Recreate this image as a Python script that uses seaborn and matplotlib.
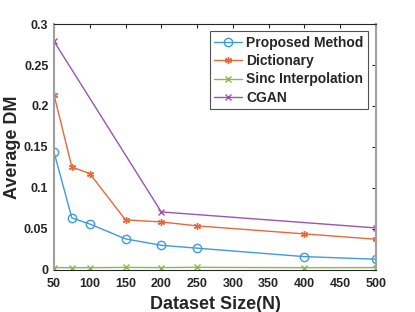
import numpy as np
import pandas as pd
import matplotlib
matplotlib.use("Agg")
import matplotlib.pyplot as plt
import seaborn as sns
from matplotlib.ticker import FuncFormatter

# values
sizes = [50, 75, 100, 150, 200, 250, 400, 500]
proposed = [0.144, 0.0634, 0.056, 0.0378, 0.030, 0.0265, 0.0162, 0.013]
dictionary = [0.214, 0.1256, 0.1175, 0.061, 0.0585, 0.0537, 0.0439, 0.0374]
sinc = [0.0028, 0.0027, 0.0027, 0.003, 0.0028, 0.0031, 0.0027, 0.0028]
cgan_sizes = [50, 200, 500]
cgan = [0.279, 0.0707, 0.0512]

df = pd.concat([
    pd.DataFrame({"N": sizes, "DM": proposed, "method": "Proposed Method"}),
    pd.DataFrame({"N": sizes, "DM": dictionary, "method": "Dictionary"}),
    pd.DataFrame({"N": sizes, "DM": sinc, "method": "Sinc Interpolation"}),
    pd.DataFrame({"N": cgan_sizes, "DM": cgan, "method": "CGAN"}),
], ignore_index=True)

palette = {
    "Proposed Method": "#3d9be0",
    "Dictionary": "#e8683a",
    "Sinc Interpolation": "#86bb45",
    "CGAN": "#9a55b0",
}
markers = {
    "Proposed Method": "o",
    "Dictionary": (6, 2, 0),
    "Sinc Interpolation": "x",
    "CGAN": "x",
}

sns.set_style("white")
plt.rcParams["font.family"] = ["Liberation Sans", "DejaVu Sans"]
plt.rcParams["font.weight"] = "bold"

fig = plt.figure(figsize=(4.15, 3.12), dpi=100)
ax = fig.add_axes([0.130, 0.135, 0.776, 0.788])

for name, grp in df.groupby("method", sort=False):
    m = markers[name]
    sns.lineplot(
        data=grp, x="N", y="DM", ax=ax, color=palette[name], label=name,
        marker=m, markersize=6 if name == "Proposed Method" else 5,
        markerfacecolor="none" if name == "Proposed Method" else palette[name],
        markeredgecolor=palette[name], markeredgewidth=1.0, linewidth=1.0,
    )

ax.set_xlim(50, 500)
ax.set_ylim(0, 0.3)
ax.set_xticks([50, 100, 150, 200, 250, 300, 350, 400, 450, 500])
ax.set_yticks([0, 0.05, 0.1, 0.15, 0.2, 0.25, 0.3])
ax.yaxis.set_major_formatter(FuncFormatter(lambda v, p: f"{v:g}"))
ax.tick_params(direction="in", length=3, top=True, right=True,
               labelsize=9, colors="#262626", width=0.8)
ax.tick_params(axis="x", pad=6)
ax.tick_params(axis="y", pad=4)
for lab in ax.get_xticklabels() + ax.get_yticklabels():
    lab.set_fontweight("bold")
for side in ["top", "bottom"]:
    ax.spines[side].set_color("#262626")
    ax.spines[side].set_linewidth(0.8)
for side in ["left", "right"]:
    ax.spines[side].set_color("#a0a0a0")
    ax.spines[side].set_linewidth(1.5)

ax.set_xlabel("Dataset Size(N)", fontsize=13, fontweight="bold", labelpad=4)
ax.set_ylabel("Average DM", fontsize=13, fontweight="bold", labelpad=2)

leg = ax.legend(loc="upper right", bbox_to_anchor=(0.975, 0.97),
                prop={"weight": "bold", "size": 10}, frameon=True,
                fancybox=False, edgecolor="#262626", handlelength=2.0,
                borderpad=0.3, labelspacing=0.32, handletextpad=0.3,
                borderaxespad=0)
leg.get_frame().set_linewidth(0.8)

fig.savefig("out.png", dpi=100)
